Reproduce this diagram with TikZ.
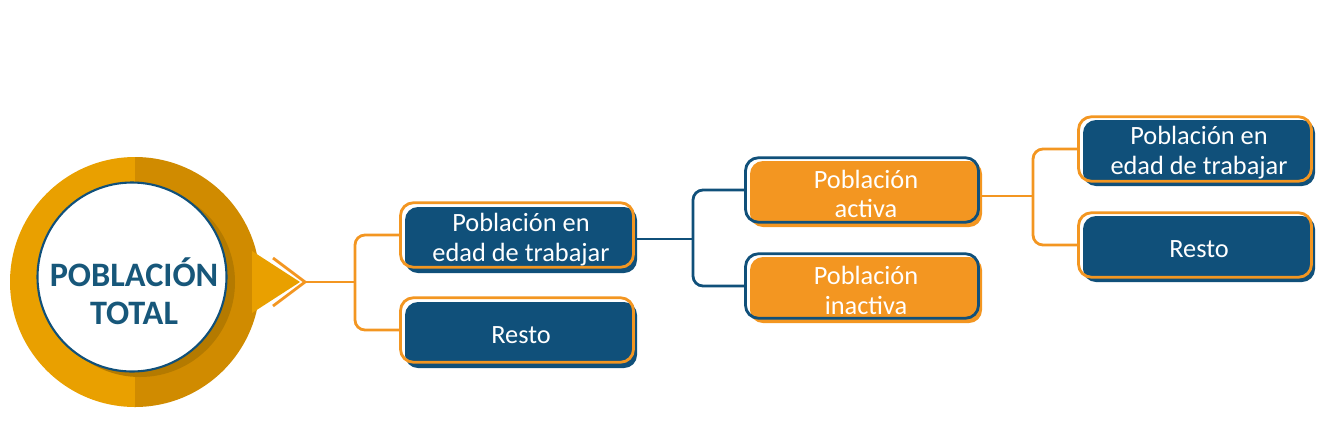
\documentclass[tikz,border=0pt]{standalone}
\usepackage{fontspec}
\setmainfont{Carlito}
\definecolor{dblue}{HTML}{10507A}
\definecolor{tblue}{HTML}{17577A}
\definecolor{orng}{HTML}{F39621}
\definecolor{ringl}{HTML}{E9A000}
\definecolor{ringd}{HTML}{D08B00}
\definecolor{ringsh}{HTML}{B47A00}
\tikzset{
  fillbox/.style={rounded corners=2.6mm, minimum width=46.4mm, minimum height=13.2mm, inner sep=0pt,
    text=white, align=center, font=\fontsize{15}{17}\selectfont},
  bluebox/.style={fillbox, fill=dblue},
  orangebox/.style={fillbox, fill=orng},
  outlbox/.style={rounded corners=2.6mm, minimum width=46.6mm, minimum height=12.9mm, inner sep=0pt, line width=1.6pt},
  oline/.style={draw=orng, line width=1.6pt, rounded corners=2mm},
  bline/.style={draw=dblue, line width=1.6pt, rounded corners=2mm},
}
\begin{document}
\begin{tikzpicture}[x=0.2mm, y=-0.2mm]
\useasboundingbox (0,0) rectangle (1337,439);
% circle
\begin{scope}
\clip (0,150) rectangle (135,420);
\fill[ringl] (135,282) circle[radius=125];
\end{scope}
\begin{scope}
\clip (135,150) rectangle (270,420);
\fill[ringd] (135,282) circle[radius=125];
\end{scope}
\fill[ringl] (252,251) -- (300,282) -- (252,313) -- cycle;
\fill[ringsh] (140,282) circle[radius=95];
\node[circle, draw=dblue, line width=1.2pt, fill=white, minimum size=37.8mm, inner sep=0pt] (tot) at (132,277) {};
\node[text=tblue, font=\bfseries\fontsize{19.5}{21.5}\selectfont, align=center] (totl) at (134,291) {POBLACIÓN\\TOTAL};
\coordinate (tip) at (305,282);
\draw[draw=orng, line width=1.6pt] (273,258) -- (tip) -- (273,306);
% level 1
\node[bluebox] (b1) at (521,240) {Población en\\edad de trabajar};
\node[outlbox, draw=orng] (b1o) at (517,235) {};
\node[bluebox] (r1) at (521,335) {Resto};
\node[outlbox, draw=orng] (r1o) at (517,330) {};
\coordinate (j1) at (355,282);
\draw[oline] (b1o.west) -| (j1) |- (r1o.west);
\draw[draw=orng, line width=1.6pt] (tip) -- (j1);
% level 2
\node[orangebox] (a2) at (866,194) {Población\\activa};
\node[outlbox, draw=dblue] (a2o) at (862,190) {};
\node[orangebox] (i2) at (866,290) {Población\\inactiva};
\node[outlbox, draw=dblue] (i2o) at (862,286) {};
\coordinate (j2) at (693,239);
\draw[bline] (a2o.west) -| (j2) |- (i2o.west);
\draw[draw=dblue, line width=1.6pt] (b1.east |- j2) -- (j2);
% level 3
\node[bluebox] (b3) at (1199,153) {Población en\\edad de trabajar};
\node[outlbox, draw=orng] (b3o) at (1195,149) {};
\node[bluebox] (r3) at (1199,249) {Resto};
\node[outlbox, draw=orng] (r3o) at (1195,245) {};
\coordinate (j3) at (1033,196);
\draw[oline] (b3o.west) -| (j3) |- (r3o.west);
\draw[draw=orng, line width=1.6pt] (a2.east |- j3) -- (j3);
\end{tikzpicture}
\end{document}
